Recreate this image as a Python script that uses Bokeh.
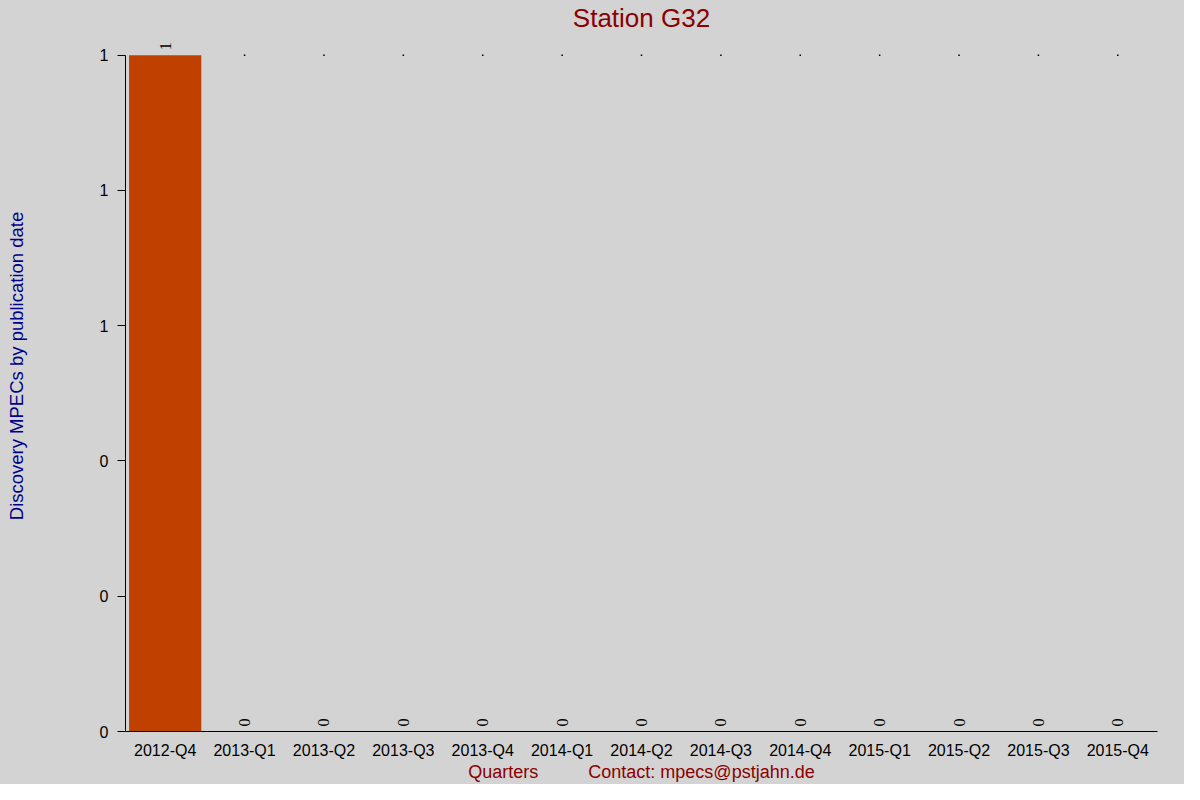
import math
from bokeh.plotting import figure
from bokeh.models import ColumnDataSource, LabelSet, Label, Range1d, FixedTicker
from bokeh.embed import file_html
from bokeh.resources import INLINE

# ---- data ----
quarters = ["2012-Q4", "2013-Q1", "2013-Q2", "2013-Q3", "2013-Q4",
            "2014-Q1", "2014-Q2", "2014-Q3", "2014-Q4",
            "2015-Q1", "2015-Q2", "2015-Q3", "2015-Q4"]
mpecs = [1, 0, 0, 0, 0, 0, 0, 0, 0, 0, 0, 0, 0]
y_ticks = [0, 0.2, 0.4, 0.6, 0.8, 1.0]
y_tick_labels = ["0", "0", "0", "1", "1", "1"]
title_text = "Station G32"
y_title = "Discovery MPECs by publication date"
x_title = "Quarters " + "\u00a0" * 9 + "Contact: mpecs@pstjahn.de"

FONT = "Liberation Sans"
BG = "#D3D3D3"
BAR = "#C04000"

# ---- layout (pixels) ----
W, H = 1184, 784
BORDER_L, BORDER_R, BORDER_B = 125, 27, 49
TOP_GAP = 55          # pixels between canvas top and the value-1 line
TITLE_CY = 18         # title centre from canvas top

y_max = max(mpecs)
frame_h = H - BORDER_B
px_per_unit = (frame_h - TOP_GAP) / y_max
y_end = y_max + TOP_GAP / px_per_unit
title_y = y_end - TITLE_CY / px_per_unit

src = ColumnDataSource(dict(
    q=quarters,
    v=mpecs,
    t=[str(v) for v in mpecs],
))

p = figure(
    x_range=quarters,
    y_range=Range1d(0, y_end),
    width=W, height=H,
    output_backend="svg", toolbar_location=None,
    title_location=None,
    min_border_left=BORDER_L, min_border_right=BORDER_R,
    min_border_top=0, min_border_bottom=BORDER_B,
    background_fill_color=None, border_fill_color=BG,
    outline_line_color=None,
)
p.styles = {"background-color": BG}

p.vbar(x="q", top="v", width=0.91, source=src, fill_color=BAR, line_color=None)

# tiny marks at the top of each empty category (as in reference)
dot_src = ColumnDataSource(dict(
    q=[q for q, v in zip(quarters, mpecs) if v < y_max],
    y=[y_max for v in mpecs if v < y_max],
))
p.scatter(x="q", y="y", source=dot_src, marker="square", size=1.5,
          fill_color="black", line_color=None)

labels = LabelSet(x="q", y="v", text="t", source=src, angle=math.pi / 2,
                  text_align="left", text_baseline="middle", y_offset=5,
                  text_font=FONT, text_font_size="16px", text_color="black")
p.add_layout(labels)

# title, drawn inside the (borderless) frame
title = Label(x=len(quarters) / 2, y=title_y, text=title_text,
              text_align="center", text_baseline="middle",
              text_font=FONT, text_font_size="26px", text_color="#8B0000")
p.add_layout(title)

# grids
p.xgrid.grid_line_color = None
p.ygrid.grid_line_color = None

# y axis
ya = p.yaxis[0]
ya.ticker = FixedTicker(ticks=y_ticks)
ya.bounds = (0, y_max)
ya.major_label_overrides = {t: l for t, l in zip(y_ticks, y_tick_labels)}
ya.minor_tick_line_color = None
ya.major_tick_in = 0
ya.major_tick_out = 8
ya.major_tick_line_color = "black"
ya.axis_line_color = "black"
ya.major_label_text_font = FONT
ya.major_label_text_font_size = "16px"
ya.major_label_text_color = "black"
ya.major_label_standoff = 9
ya.axis_label = y_title
ya.axis_label_text_font = FONT
ya.axis_label_text_font_size = "18.5px"
ya.axis_label_text_font_style = "normal"
ya.axis_label_text_color = "#00008B"
ya.axis_label_standoff = 70

# x axis
xa = p.xaxis[0]
xa.major_tick_in = 0
xa.major_tick_out = 0
xa.minor_tick_line_color = None
xa.axis_line_color = "black"
xa.major_label_text_font = FONT
xa.major_label_text_font_size = "16px"
xa.major_label_text_color = "black"
xa.major_label_standoff = 10
xa.axis_label = x_title
xa.axis_label_text_font = FONT
xa.axis_label_text_font_size = "18px"
xa.axis_label_text_font_style = "normal"
xa.axis_label_text_color = "#8B0000"
xa.axis_label_standoff = 0

open("out.html", "w").write(file_html(p, INLINE))
